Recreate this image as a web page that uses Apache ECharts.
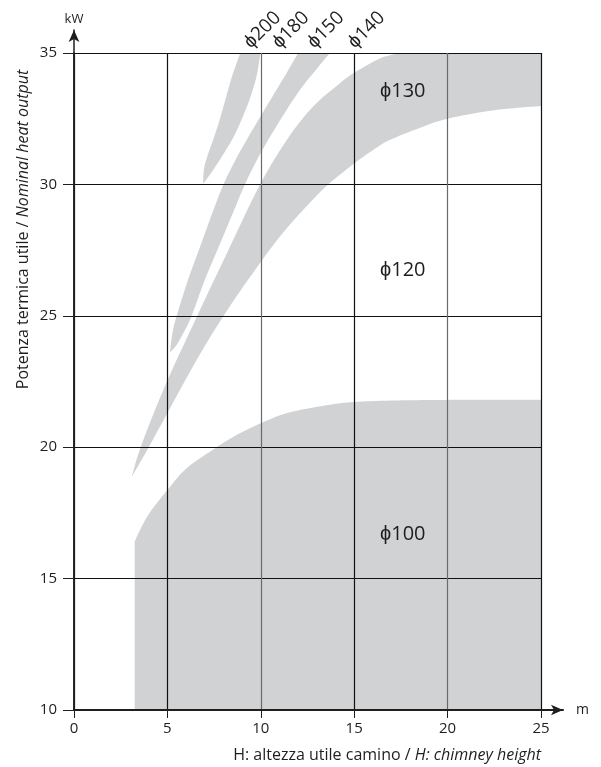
<!DOCTYPE html>
<html>
<head>
<meta charset="utf-8">
<script src="https://cdn.jsdelivr.net/npm/echarts@6/dist/echarts.min.js"></script>
<style>
  html, body { margin: 0; padding: 0; background: #fff; }
  #chart { width: 601px; height: 767px; }
</style>
</head>
<body>
<div id="chart"></div>
<script>
// Chimney sizing diagram: nominal heat output (kW) vs chimney height (m)
const FONT = '"Open Sans", "Liberation Sans", sans-serif';
const GRAY = '#d1d2d4';
const INK = '#1e1e1e';

const xTicks = [0, 5, 10, 15, 20, 25];
const yTicks = [10, 15, 20, 25, 30, 35];

// Region boundaries as [height m, output kW]
const phi200Left = [[6.92, 30.03], [6.92, 30.3], [6.99, 30.7], [7.2, 31.2], [7.45, 31.7], [7.75, 32.35],
  [8.0, 32.96], [8.25, 33.6], [8.5, 34.2], [8.7, 34.6], [8.9, 35]];
const phi200Right = [[6.92, 30.03], [7.1, 30.2], [7.45, 30.55], [7.95, 31.1], [8.5, 31.75],
  [8.9, 32.35], [9.26, 32.96], [9.55, 33.55], [9.8, 34.2], [9.98, 35]];

const phi150Left = [[5.14, 23.6], [5.2, 24.0], [5.3, 24.46], [5.5, 25.0], [6.1, 26.36], [6.75, 27.63],
  [7.4, 28.9], [8.0, 30.0], [8.7, 31.0], [9.25, 31.7], [10.3, 32.96], [11.35, 34.2], [12.0, 35]];
const phi150Right = [[5.14, 23.6], [5.5, 23.9], [5.9, 24.4], [6.3, 25.0], [7.0, 26.36], [7.75, 27.63],
  [8.5, 28.9], [9.15, 30.0], [10.0, 31.2], [11.0, 32.4], [12.1, 33.6], [13.0, 34.4], [13.7, 35]];

const phi130Upper = [[3.09, 18.87], [3.57, 20.0], [4.78, 22.18], [6.6, 25.0], [8.35, 27.63], [9.96, 30.0],
  [11.4, 31.7], [12.8, 32.96], [14.24, 33.85], [15.0, 34.25], [16.4, 34.8], [17.45, 35]];
const phi130Lower = [[3.09, 18.87], [4.0, 20.0], [5.0, 21.3], [6.0, 22.6], [7.0, 23.85], [8.1, 25.1],
  [9.1, 26.15], [10.0, 27.05], [11.0, 28.0], [12.1, 28.9], [13.3, 29.8], [14.2, 30.35], [15.0, 30.8],
  [16.0, 31.3], [16.9, 31.69], [18.5, 32.15], [20.0, 32.5], [22.5, 32.82], [25, 32.98]];

const phi100Start = 3.25;
const phi100Top = [[3.25, 16.4], [3.5, 16.8], [4.0, 17.45], [5.0, 18.37], [6.03, 19.2],
  [7.64, 20.0], [8.8, 20.5], [9.96, 20.9], [11.03, 21.22], [12.1, 21.42], [13.7, 21.62], [15.0, 21.72],
  [17.0, 21.78], [20.0, 21.8], [25, 21.8]];

// Diameter labels
const innerLabels = ['ϕ130', 'ϕ120', 'ϕ100'];
const innerLabelPos = [[17.6, 33.55], [17.6, 26.74], [17.6, 16.68]];
const topLabels = ['ϕ200', 'ϕ180', 'ϕ150', 'ϕ140'];
const topLabelX = [9.42, 10.94, 12.81, 14.99];

const xMin = xTicks[0], xMax = xTicks[xTicks.length - 1];
const yMin = yTicks[0], yMax = yTicks[yTicks.length - 1];

// Each region is a closed outline made of pieces; curved pieces are drawn smooth,
// single-point pieces are sharp corners joined with straight lines.
const regions = [
  [{ pts: phi200Left, curve: true }, { pts: phi200Right.slice().reverse(), curve: true }],
  [{ pts: phi150Left, curve: true }, { pts: phi150Right.slice().reverse(), curve: true }],
  [{ pts: phi130Upper, curve: true }, { pts: [[xMax, yMax]], curve: false },
   { pts: phi130Lower.slice().reverse(), curve: true }],
  [{ pts: [[phi100Start, yMin]], curve: false }, { pts: phi100Top, curve: true },
   { pts: [[xMax, yMin]], curve: false }]
];

function fmt(p) { return p[0].toFixed(2) + ' ' + p[1].toFixed(2); }

function outlinePath(pieces, api) {
  let d = '';
  pieces.forEach((piece, k) => {
    const px = piece.pts.map(p => api.coord(p));
    d += (k === 0 ? 'M ' : ' L ') + fmt(px[0]);
    if (piece.curve) {
      for (let i = 0; i < px.length - 1; i++) {
        const p0 = px[Math.max(0, i - 1)], p1 = px[i], p2 = px[i + 1], p3 = px[Math.min(px.length - 1, i + 2)];
        const c1 = [p1[0] + (p2[0] - p0[0]) / 6, p1[1] + (p2[1] - p0[1]) / 6];
        const c2 = [p2[0] - (p3[0] - p1[0]) / 6, p2[1] - (p3[1] - p1[1]) / 6];
        d += ' C ' + fmt(c1) + ' ' + fmt(c2) + ' ' + fmt(p2);
      }
    } else {
      for (let i = 1; i < px.length; i++) d += ' L ' + fmt(px[i]);
    }
  });
  return d + ' Z';
}

function regionSeries(pieces) {
  const pts = [].concat.apply([], pieces.map(p => p.pts));
  return {
    type: 'custom',
    coordinateSystem: 'cartesian2d',
    xAxisIndex: 0, yAxisIndex: 0,
    silent: true, z: 1,
    data: pts,
    encode: { x: 0, y: 1 },
    renderItem: function (params, api) {
      if (params.dataIndex !== 0) return null;
      return {
        type: 'path',
        shape: { pathData: outlinePath(pieces, api) },
        style: { fill: GRAY, stroke: null }
      };
    }
  };
}

const chart = echarts.init(document.getElementById('chart'), null, { renderer: 'canvas' });

const tickLabelStyle = { color: INK, fontSize: 15, fontFamily: FONT };

chart.setOption({
  animation: false,
  backgroundColor: '#fff',
  grid: [
    { left: 74, top: 53, width: 467, height: 657, outerBoundsMode: 'none' },
    { left: 74, top: 30, right: 38, bottom: 57, outerBoundsMode: 'none' }
  ],
  xAxis: [
    {
      gridIndex: 0, type: 'value', min: xMin, max: xMax, interval: 5, z: 5,
      axisLine: { show: true, lineStyle: { color: INK, width: 2 } },
      axisTick: { show: true, length: 8, lineStyle: { color: INK, width: 1 } },
      axisLabel: Object.assign({ margin: 11 }, tickLabelStyle),
      splitLine: { show: true, lineStyle: { color: ['#111', '#111', '#6a6a6a', '#111', '#6a6a6a', '#111'], width: 1.2 } }
    },
    {
      gridIndex: 1, type: 'value', min: 0, max: 1, z: 5,
      axisLine: { show: true, symbol: ['none', 'arrow'], symbolSize: [8, 12], lineStyle: { color: INK, width: 2 } },
      axisTick: { show: false }, axisLabel: { show: false }, splitLine: { show: false },
      name: 'm', nameLocation: 'end', nameGap: 13,
      nameTextStyle: { color: INK, fontSize: 14, fontFamily: FONT }
    }
  ],
  yAxis: [
    {
      gridIndex: 0, type: 'value', min: yMin, max: yMax, interval: 5, z: 5,
      axisLine: { show: true, lineStyle: { color: INK, width: 1.5 } },
      axisTick: { show: true, length: 11, lineStyle: { color: INK, width: 1 } },
      axisLabel: Object.assign({ margin: 17 }, tickLabelStyle),
      splitLine: { show: true, lineStyle: { color: '#111', width: 1 } }
    },
    {
      gridIndex: 1, type: 'value', min: 0, max: 1, z: 5,
      axisLine: { show: true, symbol: ['none', 'arrow'], symbolSize: [8, 12], lineStyle: { color: INK, width: 1.5 } },
      axisTick: { show: false }, axisLabel: { show: false }, splitLine: { show: false },
      name: 'kW', nameLocation: 'end', nameGap: 4,
      nameTextStyle: { color: INK, fontSize: 13, fontFamily: FONT }
    }
  ],
  graphic: [
    {
      type: 'text', x: 23, y: 229.5, rotation: Math.PI / 2, silent: true,
      style: {
        text: 'Potenza termica utile / {i|Nominal heat output}',
        fill: INK, fontSize: 16, fontFamily: FONT, align: 'center', verticalAlign: 'middle',
        rich: { i: { fontStyle: 'italic', fontSize: 16, fontFamily: FONT, fill: INK } }
      }
    },
    {
      type: 'text', x: 541, y: 755, silent: true,
      style: {
        text: 'H: altezza utile camino / {i|H: chimney height}',
        fill: INK, fontSize: 16, fontFamily: FONT, align: 'right', verticalAlign: 'middle',
        rich: { i: { fontStyle: 'italic', fontSize: 16, fontFamily: FONT, fill: INK } }
      }
    }
  ],
  series: regions.map(regionSeries).concat([
    {
      type: 'custom', coordinateSystem: 'cartesian2d', xAxisIndex: 0, yAxisIndex: 0,
      silent: true, z: 10,
      data: innerLabelPos,
      encode: { x: 0, y: 1 },
      renderItem: function (params, api) {
        const p = api.coord([api.value(0), api.value(1)]);
        return {
          type: 'text', x: p[0], y: p[1],
          style: { text: innerLabels[params.dataIndex], fill: INK, fontSize: 20, fontFamily: FONT,
                   align: 'center', verticalAlign: 'middle' }
        };
      }
    },
    {
      type: 'custom', coordinateSystem: 'cartesian2d', xAxisIndex: 0, yAxisIndex: 0,
      silent: true, z: 10, clip: false,
      data: topLabelX.map(x => [x, yMax]),
      encode: { x: 0, y: 1 },
      renderItem: function (params, api) {
        const p = api.coord([api.value(0), api.value(1)]);
        return {
          type: 'text', x: p[0] + 4, y: p[1] - 1, rotation: Math.PI / 4,
          style: { text: topLabels[params.dataIndex], fill: INK, fontSize: 19, fontFamily: FONT,
                   align: 'left', verticalAlign: 'bottom' }
        };
      }
    }
  ])
});
</script>
</body>
</html>
